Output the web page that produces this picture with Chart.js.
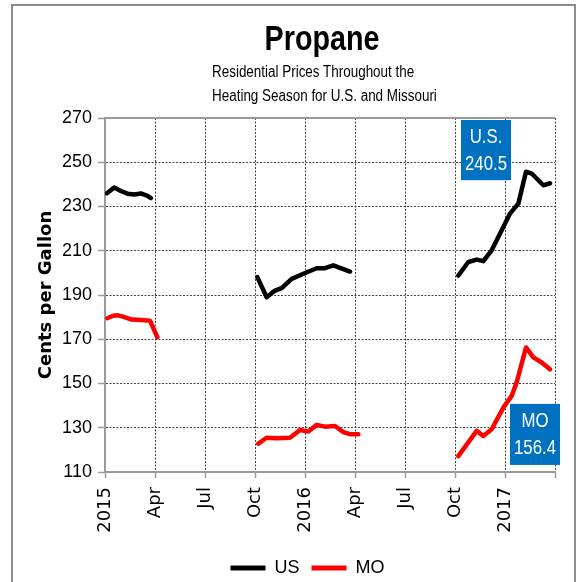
<!DOCTYPE html>
<html>
<head>
<meta charset="utf-8">
<script src="https://cdn.jsdelivr.net/npm/chart.js@4.4.1/dist/chart.umd.min.js"></script>
<style>
  html, body { margin: 0; padding: 0; background: #fff; }
  #wrap { position: relative; width: 582px; height: 582px; overflow: hidden; }
  #frame { position: absolute; left: 11px; top: 4px; width: 565px; height: 620px; border: 2px solid #8c8c8c; box-sizing: border-box; }
  canvas { position: absolute; left: 0; top: 0; }
  .t { position: absolute; font-family: "Liberation Sans", Arial, sans-serif; color: #000; white-space: nowrap; }
  #title { left: 0; width: 644px; text-align: center; top: 20px; font-size: 35px; line-height: 35px; font-weight: bold; transform: scaleX(0.82); transform-origin: 322px 0; }
  #sub { left: 212px; top: 60px; font-size: 16px; line-height: 24px; transform: scaleX(0.84); transform-origin: 0 0; }
</style>
</head>
<body>
<div id="wrap">
  <div id="frame"></div>
  <canvas id="c" width="582" height="582"></canvas>
  <div class="t" id="title">Propane</div>
  <div class="t" id="sub">Residential Prices Throughout the<br>Heating Season for U.S. and Missouri</div>
</div>
<script>
// x positions: months since 1 Jan 2015 (null = break between heating seasons)
const usMonths = [0.12, 0.55, 0.95, 1.35, 1.75, 2.15, 2.55, 2.75, null,
  9.14, 9.7, 10.2, 10.6, 11.2, 11.9, 12.7, 13.2, 13.7, 14.7, null,
  21.2, 21.8, 22.3, 22.7, 23.2, 23.9, 24.3, 24.8, 25.26, 25.6, 26.3, 26.7];
const usPrices = [236.0, 238.6, 237.0, 235.8, 235.4, 235.9, 234.8, 233.8, null,
  198.1, 189.0, 192.0, 193.1, 197.3, 199.6, 202.1, 202.1, 203.4, 200.6, null,
  198.8, 204.9, 206.0, 205.3, 210.2, 220.7, 226.8, 231.3, 245.7, 244.9, 239.6, 240.5];
const moMonths = [0.14, 0.48, 0.78, 1.08, 1.6, 2.2, 2.7, 3.14, null,
  9.2, 9.7, 10.3, 11.1, 11.7, 12.2, 12.7, 13.2, 13.8, 14.3, 14.7, 15.2, null,
  21.2, 22.3, 22.7, 23.2, 23.9, 24.4, 24.7, 25.26, 25.7, 26.2, 26.7];
const moPrices = [179.5, 180.6, 180.8, 180.2, 178.9, 178.7, 178.4, 170.9, null,
  122.8, 125.5, 125.3, 125.5, 129.0, 128.3, 131.3, 130.5, 130.8, 128.0, 127.1, 127.1, null,
  117.2, 128.6, 126.3, 129.3, 139.1, 144.4, 150.5, 166.3, 161.8, 159.5, 156.4];
const xTickLabels = ['2015', 'Apr', 'Jul', 'Oct', '2016', 'Apr', 'Jul', 'Oct', '2017', ''];
const seriesNames = ['US', 'MO'];
const boxLabels = ['U.S.', 'MO'];

function toPoints(xs, ys) {
  let last = 0;
  return xs.map((x, i) => {
    if (x === null) return { x: last, y: null };
    last = x;
    return { x: x, y: ys[i] };
  });
}

const SANS = '"Liberation Sans", Arial, sans-serif';

const calloutPlugin = {
  id: 'callouts',
  afterLayout(chart) {
    // nudge the legend to sit where the reference legend sits
    if (chart.legend) { chart.legend.left += 23; chart.legend.right += 23; }
  },
  beforeDatasetsDraw(chart) {
    const { ctx, chartArea } = chart;
    ctx.save();
    ctx.strokeStyle = '#9a9a9a';
    ctx.lineWidth = 2;
    ctx.beginPath();
    ctx.moveTo(chartArea.left, chartArea.top);
    ctx.lineTo(chartArea.right, chartArea.top);
    ctx.stroke();
    ctx.restore();
  },
  afterDatasetsDraw(chart, args, opts) {
    const { ctx } = chart;
    const xs = chart.scales.x, ys = chart.scales.y;
    opts.boxes.forEach(b => {
      const x0 = xs.getPixelForValue(b.x0), x1 = xs.getPixelForValue(b.x1);
      const y0 = ys.getPixelForValue(b.y0), y1 = ys.getPixelForValue(b.y1);
      ctx.save();
      ctx.fillStyle = '#0070C0';
      ctx.fillRect(x0, y0, x1 - x0, y1 - y0);
      ctx.fillStyle = '#fff';
      ctx.font = '20px ' + SANS;
      ctx.textAlign = 'center';
      ctx.textBaseline = 'middle';
      const cx = (x0 + x1) / 2, cy = (y0 + y1) / 2;
      ctx.translate(cx, cy);
      ctx.scale(0.84, 1);
      ctx.fillText(b.lines[0], 0, -13);
      ctx.fillText(b.lines[1], 0, 14);
      ctx.restore();
    });
  }
};

new Chart(document.getElementById('c'), {
  type: 'line',
  data: {
    datasets: [
      { label: seriesNames[0], data: toPoints(usMonths, usPrices), borderColor: '#000', backgroundColor: '#000', borderWidth: 4.5 },
      { label: seriesNames[1], data: toPoints(moMonths, moPrices), borderColor: '#ff0000', backgroundColor: '#ff0000', borderWidth: 4.5 }
    ]
  },
  options: {
    responsive: false,
    animation: false,
    spanGaps: false,
    elements: {
      point: { radius: 0, hoverRadius: 0 },
      line: { tension: 0, borderJoinStyle: 'round', borderCapStyle: 'round' }
    },
    layout: { padding: { left: 14, top: 118, right: 27, bottom: -5 } },
    scales: {
      x: {
        type: 'linear', min: 0, max: 27,
        ticks: {
          stepSize: 3, autoSkip: false, maxRotation: 90, minRotation: 90,
          color: '#000', padding: 9,
          font: { family: '"DejaVu Sans", Verdana, sans-serif', size: 18 },
          callback: (v) => xTickLabels[Math.round(v / 3)]
        },
        grid: { color: '#444', lineWidth: 1, tickColor: '#9a9a9a', tickLength: 6, tickWidth: 1.5, tickBorderDash: [] },
        border: { color: '#9a9a9a', width: 2, dash: [2, 1.5] },
        afterFit(s) { s.height = 75; s.paddingLeft = 0; s.paddingRight = 0; }
      },
      y: {
        min: 110, max: 270,
        ticks: { stepSize: 20, color: '#000', padding: 6, font: { family: SANS, size: 18 } },
        grid: { color: '#444', lineWidth: 1, tickColor: '#9a9a9a', tickLength: 7, tickWidth: 1.5, tickBorderDash: [] },
        border: { color: '#9a9a9a', width: 2, dash: [2, 1.5] },
        title: { display: true, text: 'Cents per Gallon', color: '#000', padding: { top: 22, bottom: 0 },
          font: { family: '"DejaVu Sans", Verdana, sans-serif', size: 18, weight: 'bold' } },
        afterFit(s) { s.width = 91; }
      }
    },
    plugins: {
      legend: {
        position: 'bottom',
        labels: {
          color: '#000', boxWidth: 35, boxHeight: 5, padding: 12,
          font: { family: SANS, size: 18 },
          generateLabels(chart) {
            const items = Chart.defaults.plugins.legend.labels.generateLabels(chart);
            items.forEach(it => { it.lineWidth = 0; });
            return items;
          }
        }
      },
      tooltip: { enabled: false },
      callouts: {
        boxes: [
          { lines: [boxLabels[0], usPrices[usPrices.length - 1].toFixed(1)], x0: 21.36, x1: 24.36, y0: 269.1, y1: 241.9 },
          { lines: [boxLabels[1], moPrices[moPrices.length - 1].toFixed(1)], x0: 24.3, x1: 27.3, y0: 140.8, y1: 113.2 }
        ]
      }
    }
  },
  plugins: [calloutPlugin]
});
</script>
</body>
</html>
